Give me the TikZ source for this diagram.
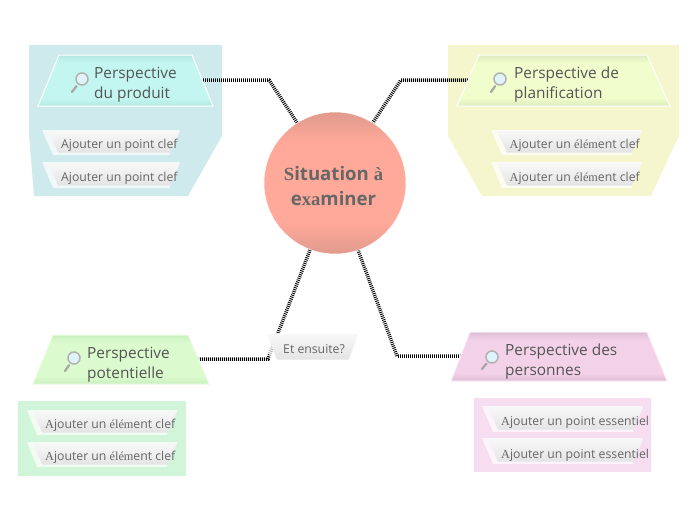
\documentclass[tikz,border=0pt]{standalone}
\usepackage{fontspec}
\setmainfont{Open Sans}
\newfontfamily\serifpart{Liberation Serif}
\usetikzlibrary{calc}
\definecolor{txtmain}{HTML}{555555}
\definecolor{txtsub}{HTML}{666666}
\newcommand{\bandshade}[3]{\pgfdeclareverticalshading{#1}{100bp}{color(0bp)=(#2);color(25bp)=(#2);color(33bp)=(#3);color(67bp)=(#3);color(75bp)=(#2);color(100bp)=(#2)}}
\definecolor{prodE}{HTML}{B4EAE3}\definecolor{prodM}{HTML}{C3F6F0}
\definecolor{planE}{HTML}{DDECC0}\definecolor{planM}{HTML}{F0FDCC}
\definecolor{poteE}{HTML}{CAEFBF}\definecolor{poteM}{HTML}{DBFBCE}
\definecolor{persE}{HTML}{DFBCD5}\definecolor{persM}{HTML}{F3D2E9}
\definecolor{circE}{HTML}{E09A8C}\definecolor{circM}{HTML}{FFA99A}
\definecolor{subT}{HTML}{F7F7F7}\definecolor{subB}{HTML}{E4E4E4}
\bandshade{prodS}{prodE}{prodM}
\bandshade{planS}{planE}{planM}
\bandshade{poteS}{poteE}{poteM}
\bandshade{persS}{persE}{persM}
\pgfdeclareverticalshading{circS}{100bp}{color(0bp)=(circE);color(25bp)=(circE);color(36bp)=(circM);color(64bp)=(circM);color(75bp)=(circE);color(100bp)=(circE)}
\pgfdeclareverticalshading{subS}{100bp}{color(0bp)=(subB);color(25bp)=(subB);color(72bp)=(subT);color(100bp)=(subT)}
\tikzset{
  x=1pt,y=-1pt,
  hatch/.style={draw=black,line width=3.5pt,dash pattern=on .9pt off 1.1pt},
  mainlabel/.style={anchor=west,inner sep=0pt,align=left,text=txtmain,font=\fontsize{15.4}{20}\selectfont},
  sublabel/.style={anchor=west,inner sep=0pt,text=txtsub,font=\fontsize{12.25}{14}\selectfont},
  port/.style={inner sep=0pt,outer sep=0pt,minimum height=1pt},
}
% main trapezoid: x top-left, x top-right, x bottom-right, x bottom-left, y top, y bottom, shading, border colour
\newcommand{\maintrap}[8]{%
  \shade[shading=#7,draw=#8,line width=1pt] (#1,#5)--(#2,#5)--(#3,#6)--(#4,#6)--cycle;}
% sub trapezoid: same geometry, with a pale rim on the left and bottom
\newcommand{\subtrap}[6]{%
  \fill[white,opacity=.7] (#1,#5)--(#2,#5)--(#3,#6)--(#4,#6)--cycle;
  \shade[shading=subS] (#1+6,#5+1)--(#2,#5+1)--(#3+1,#6-2.5)--(#4+5,#6-2.5)--cycle;}
% magnifier: lens x,y, handle end x,y
\newcommand{\lens}[4]{%
  \draw[line width=2.2pt,color=gray!70,line cap=round] (#3,#4)--($(#1,#2)!.55!(#3,#4)$);
  \draw[line width=1.5pt,draw=gray!60,fill={rgb,255:red,225;green,243;blue,250}] (#1,#2) circle[radius=6];}
\begin{document}
\begin{tikzpicture}
\useasboundingbox (0,0) rectangle (696,520);
% panels
\fill[color={rgb,255:red,207;green,234;blue,236}] (29,45)--(222,45)--(222,136)--(188,196)--(34,196)--(29,135)--cycle;
\fill[color={rgb,255:red,245;green,246;blue,205}] (448,45)--(679,45)--(679,136)--(651,196)--(482,196)--(448,136)--cycle;
\fill[color={rgb,255:red,209;green,245;blue,217}] (18,401) rectangle (186,476);
\fill[color={rgb,255:red,246;green,221;blue,240}] (474,398) rectangle (651,472);
% invisible ports laid on the mid-lines of the trapezoids
\node[port,minimum width=155pt] (prod) at (125.5,80) {};
\node[port,minimum width=190pt] (plan) at (563,80) {};
\node[port,minimum width=155pt] (pote) at (121,359) {};
\node[port,minimum width=197pt] (pers) at (559,356) {};
\coordinate (bendA) at (269,80);
\coordinate (bendB) at (401,80);
\coordinate (bendC) at (268,359);
\coordinate (bendD) at (397,356);
\coordinate (sitA) at (298,124);
\coordinate (sitB) at (372,124);
\coordinate (sitC) at (310,250);
\coordinate (sitD) at (358,250);
% connectors
\draw[hatch] (prod.east)--(bendA)--(sitA);
\draw[hatch] (plan.west)--(bendB)--(sitB);
\draw[hatch] (sitC)--(bendC)--(pote.east);
\draw[hatch] (sitD)--(bendD)--(pers.west);
% centre
\node[circle,minimum size=142pt,inner sep=0pt,shading=circS,draw=white,line width=.5pt] (sit) at (335,183) {};
\node[inner sep=0pt,text=txtsub,font=\bfseries\fontsize{18.6}{25}\selectfont,align=center] (sittxt) at (333.5,186) {{\serifpart S}ituation {\serifpart à}\\e{\serifpart xa}miner};
% main trapezoids
\maintrap{59}{192}{213}{38}{55}{106}{prodS}{white}
\maintrap{479}{647}{670}{457}{55}{106}{planS}{white}
\maintrap{53}{188}{209}{33}{335}{384}{poteS}{poteM!60!white}
\maintrap{470}{647}{667}{451}{332}{381}{persS}{persM!40!white}
\lens{82}{79}{72}{92}
\lens{500}{79}{491}{92}
\lens{74}{358}{65}{371}
\lens{492}{357}{482}{369}
\node[mainlabel] (prodtxt) at (94,84.5) {Perspective\\du produit};
\node[mainlabel] (plantxt) at (514,84.5) {Perspective de\\planification};
\node[mainlabel] (potetxt) at (87,364.5) {Perspective\\potentielle};
\node[mainlabel] (perstxt) at (505,361.5) {Perspective des\\personnes};
% sub trapezoids
\subtrap{42}{180}{169}{53}{130}{155}
\subtrap{42}{180}{169}{53}{162}{188}
\subtrap{491}{642}{631}{502}{130}{155}
\subtrap{491}{642}{631}{502}{162}{188}
\subtrap{27}{177}{167}{37}{410}{435}
\subtrap{27}{177}{167}{37}{442}{467}
\subtrap{482}{643}{633}{493}{406}{432}
\subtrap{482}{643}{633}{493}{438}{464}
\subtrap{261}{358}{348}{272}{333}{362}
\node[sublabel] (a1) at (61,145.5) {Ajouter un point clef};
\node[sublabel] (a2) at (61,178.5) {Ajouter un point clef};
\node[sublabel] (b1) at (509.5,145.5) {{\serifpart A}jouter un {\serifpart élém}ent clef};
\node[sublabel] (b2) at (509.5,178.5) {{\serifpart A}jouter un {\serifpart élém}ent clef};
\node[sublabel] (c1) at (45,425.5) {{\serifpart A}jouter un {\serifpart élém}ent clef};
\node[sublabel] (c2) at (45,457.5) {{\serifpart A}jouter un {\serifpart élém}ent clef};
\node[sublabel] (d1) at (501,422.5) {{\serifpart A}jouter un point essentiel};
\node[sublabel] (d2) at (501,455) {{\serifpart A}jouter un point essentiel};
\node[sublabel] (nexttxt) at (283,349.5) {Et ensuite?};
\end{tikzpicture}
\end{document}
